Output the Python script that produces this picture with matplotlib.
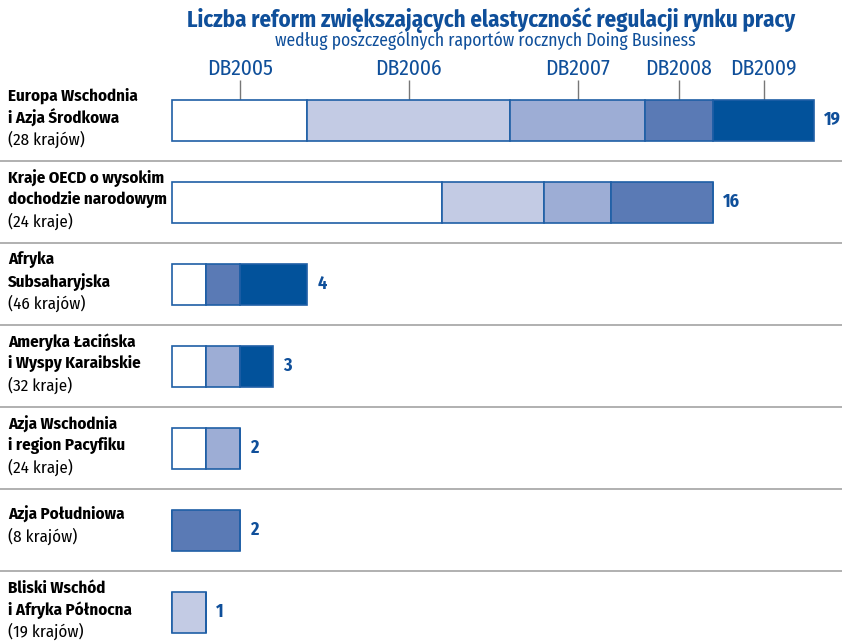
import matplotlib
matplotlib.use('Agg')
import matplotlib.pyplot as plt
import numpy as np

# dane
regiony = [
    ['Europa Wschodnia', 'i Azja Środkowa', '(28 krajów)'],
    ['Kraje OECD o wysokim', 'dochodzie narodowym', '(24 kraje)'],
    ['Afryka', 'Subsaharyjska', '(46 krajów)'],
    ['Ameryka Łacińska', 'i Wyspy Karaibskie', '(32 kraje)'],
    ['Azja Wschodnia', 'i region Pacyfiku', '(24 kraje)'],
    ['Azja Południowa', '(8 krajów)'],
    ['Bliski Wschód', 'i Afryka Północna', '(19 krajów)'],
]
raporty = ['DB2005', 'DB2006', 'DB2007', 'DB2008', 'DB2009']
db2005 = [4, 8, 1, 1, 1, 0, 0]
db2006 = [6, 3, 0, 0, 0, 0, 1]
db2007 = [4, 2, 0, 1, 1, 0, 0]
db2008 = [2, 3, 1, 0, 0, 2, 0]
db2009 = [3, 0, 2, 1, 0, 0, 0]

kolory = ['#ffffff', '#c3cbe4', '#9dadd5', '#5a7ab5', '#02529b']
niebieski = '#0f4f9a'
waski = ['Fira Sans Condensed', 'PT Sans Narrow', 'DejaVu Sans']

fig = plt.figure(figsize=(8.42, 6.44), dpi=100)
ax = fig.add_axes([0, 0, 1, 1])
px = 33.8  # pikseli na jedna reforme
ax.set_xlim(-172 / px, (842 - 172) / px)
ax.set_ylim((644 - 120) / 82, -120 / 82)
ax.axis('off')

dane = np.array([db2005, db2006, db2007, db2008, db2009])
y = np.arange(len(regiony))
lewo = np.zeros(len(regiony))
for i in range(len(raporty)):
    ax.barh(y, dane[i], left=lewo, height=0.5, color=kolory[i],
            edgecolor='#1f5fa6', linewidth=1.2, zorder=3)
    lewo += dane[i]

suma = dane.sum(axis=0)
for yi, s in zip(y, suma):
    ax.text(s + 10 / px, yi, str(s), va='center', ha='left', fontsize=13,
            fontweight='bold', color=niebieski, family=waski)

# linie oddzielajace
for yi in y[:-1]:
    ax.axhline(yi + 0.5, color='#aaaaaa', lw=1.3, zorder=1)

# etykiety regionow
for yi, linie in zip(y, regiony):
    if len(linie) == 3:
        offs = [-24, -2, 19]
    else:
        offs = [-16, 6]
    for t, o in zip(linie, offs):
        ax.text(8 / px - 172 / px, yi + o / 82, t, va='center', ha='left',
                fontsize=12.2, family=waski,
                fontweight='normal' if t.startswith('(') else 'bold')

# opisy raportow nad pierwszym paskiem
srodki = np.cumsum(dane[:, 0]) - dane[:, 0] / 2
ax.vlines(srodki, -0.25 - 20 / 82, -0.25, color='#777777', lw=1)
for xs, r in zip(srodki, raporty):
    ax.text(xs, -0.25 - 31 / 82, r, ha='center', va='center', fontsize=15.5,
            color=niebieski, family=waski)

fig.text(491 / 842, 1 - 20 / 644,
         'Liczba reform zwiększających elastyczność regulacji rynku pracy',
         ha='center', va='center', fontsize=16.4, fontweight='bold',
         color=niebieski, family=waski)
fig.text(485 / 842, 1 - 41 / 644,
         'według poszczególnych raportów rocznych Doing Business',
         ha='center', va='center', fontsize=12.7, color=niebieski, family=waski)

fig.savefig('out.png', dpi=100)
